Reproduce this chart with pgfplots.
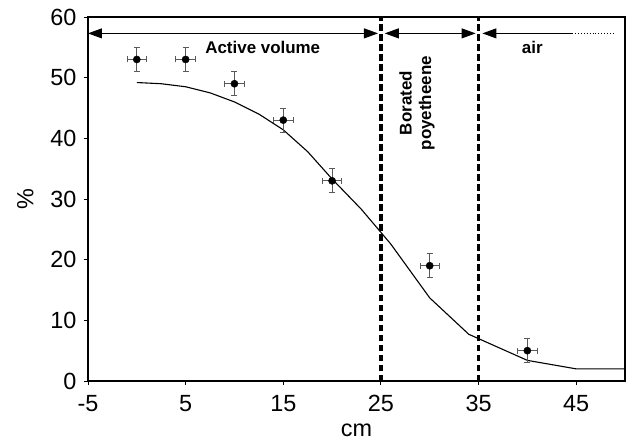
\documentclass[border=0pt]{standalone}
\usepackage{fontspec}
\setmainfont{Liberation Sans}
\usepackage{pgfplots}
\pgfplotsset{compat=1.18}
\usetikzlibrary{arrows.meta}

\begin{document}
\begin{tikzpicture}
\useasboundingbox (-88bp,-60bp) rectangle (544bp,381bp);
\begin{axis}[
  scale only axis,
  width=537bp, height=364bp,
  xmin=-5, xmax=50, ymin=0, ymax=60,
  xtick={-5,5,15,25,35,45},
  ytick={0,10,20,30,40,50,60},
  tick align=outside,
  major tick length=4bp,
  xtick pos=bottom, ytick pos=left,
  axis line style={line width=1.1bp},
  tick style={line width=0.9bp, black},
  /pgf/number format/assume math mode=true,
  ticklabel style={font=\fontsize{23.5}{25}\selectfont},
  xticklabel style={yshift=-7bp},
  yticklabel style={xshift=-4bp},
  xlabel={cm}, ylabel={\%},
  label style={font=\fontsize{23.5}{25}\selectfont},
  xlabel style={yshift=-5bp},
  ylabel style={yshift=10bp},
  clip=false,
]
% simulated profile
\addplot[black, line width=1.1bp, mark=none] coordinates {
  (0,49.2) (2.5,49.0) (5,48.5) (7.5,47.5) (10,46.0) (12.5,44.0)
  (15,41.4) (17.5,37.8) (20,33.3) (23,28.3) (26,22.6) (30,13.7)
  (34,7.7) (40,3.4) (45,2) (50,2)
};
% measured values
\addplot[only marks, mark=*, mark size=3.6bp, black,
  error bars/.cd,
    x dir=both, x explicit, y dir=both, y explicit,
    error bar style={line width=0.9bp, black!65},
    error mark options={rotate=90, mark size=3bp, line width=0.9bp, black!65}]
  table[x=x, y=y, x error=ex, y error=ey] {
x  y  ex ey
0  53 1  2
5  53 1  2
10 49 1  2
15 43 1  2
20 33 1  2
30 19 1  2
40 5  1  2
};
% region boundaries
\draw[line width=3.2bp, dash pattern=on 6.5bp off 3.5bp] (axis cs:25,0) -- (axis cs:25,60);
\draw[line width=3.2bp, dash pattern=on 6.5bp off 3.5bp] (axis cs:35,0) -- (axis cs:35,60);
% region arrows
\draw[line width=0.9bp, {Triangle[length=14bp,width=10bp]}-{Triangle[length=14bp,width=10bp]}]
  (axis cs:-5,57.3) -- (axis cs:24.7,57.3);
\draw[line width=0.9bp, {Triangle[length=14bp,width=10bp]}-{Triangle[length=14bp,width=10bp]}]
  (axis cs:25.4,57.3) -- (axis cs:34.7,57.3);
\draw[line width=0.9bp, {Triangle[length=14bp,width=10bp]}-]
  (axis cs:35.4,57.3) -- (axis cs:44.6,57.3);
\draw[line width=0.9bp, dotted] (axis cs:44.6,57.3) -- (axis cs:48.8,57.3);
% region names
\node[font=\fontsize{17}{18}\selectfont\bfseries] at (axis cs:12.9,54.9) {Active volume};
\node[font=\fontsize{17}{18}\selectfont\bfseries] at (axis cs:40.5,54.9) {air};
\node[font=\fontsize{17}{19.5}\selectfont\bfseries, rotate=90, align=center]
  at (axis cs:28.7,45.8) {Borated\\poyetheene};
\end{axis}
\end{tikzpicture}
\end{document}
